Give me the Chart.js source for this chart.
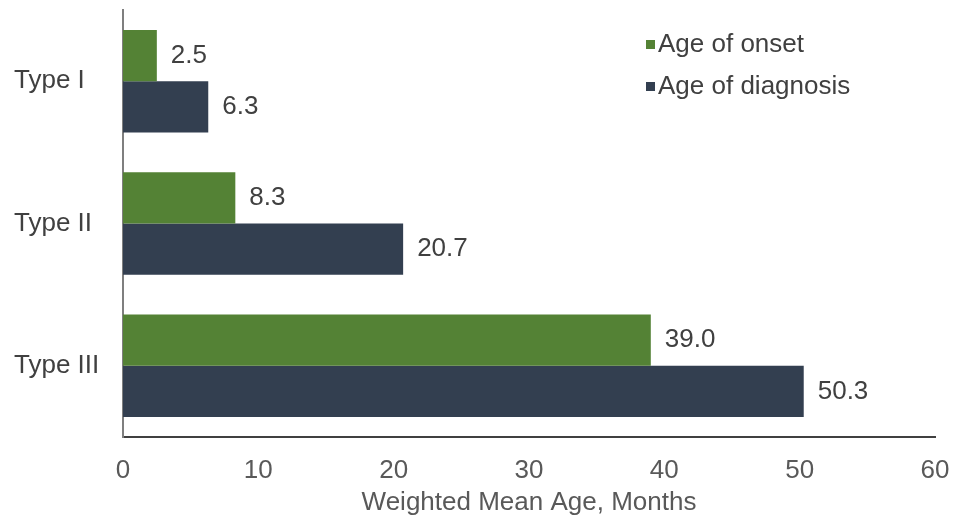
<!DOCTYPE html>
<html>
<head>
<meta charset="utf-8">
<script src="https://cdn.jsdelivr.net/npm/chart.js@4/dist/chart.umd.min.js"></script>
<style>
  html, body { margin: 0; padding: 0; background: #fff; }
  #wrap { width: 957px; height: 522px; position: relative; }
</style>
</head>
<body>
<div id="wrap"><canvas id="myChart" width="957" height="522"></canvas></div>
<script>
const categories = ['Type I', 'Type II', 'Type III'];
const onsetValues = [2.5, 8.3, 39.0];
const diagnosisValues = [6.3, 20.7, 50.3];
const seriesNames = ['Age of onset', 'Age of diagnosis'];
const xTicks = [0, 10, 20, 30, 40, 50, 60];
const xTitle = 'Weighted Mean Age, Months';

const FONT = '"Liberation Sans", Arial, sans-serif';
const SIZE = 26;
const TEXT = '#404040';

// value labels at the end of each bar
const barLabels = {
  id: 'barLabels',
  afterDatasetsDraw(chart) {
    const ctx = chart.ctx;
    ctx.save();
    ctx.font = SIZE + 'px ' + FONT;
    ctx.fillStyle = TEXT;
    ctx.textAlign = 'left';
    ctx.textBaseline = 'middle';
    chart.data.datasets.forEach((ds, i) => {
      chart.getDatasetMeta(i).data.forEach((bar, j) => {
        ctx.fillText(ds.data[j].toFixed(1), bar.x + 14, bar.y);
      });
    });
    ctx.restore();
  }
};

// legend in the top right corner of the plot
const cornerLegend = {
  id: 'cornerLegend',
  afterDraw(chart) {
    const ctx = chart.ctx;
    ctx.save();
    ctx.font = SIZE + 'px ' + FONT;
    ctx.textBaseline = 'middle';
    chart.data.datasets.forEach((ds, i) => {
      const y = 45 + i * 42;
      ctx.fillStyle = ds.backgroundColor;
      ctx.fillRect(646, y - 5, 9, 9);
      ctx.fillStyle = TEXT;
      ctx.fillText(ds.label, 658, y);
    });
    ctx.restore();
  }
};

const ctx = document.getElementById('myChart').getContext('2d');
const myChart = new Chart(ctx, {
  type: 'bar',
  data: {
    labels: categories,
    datasets: [
      { label: seriesNames[0], data: onsetValues, backgroundColor: '#548235' },
      { label: seriesNames[1], data: diagnosisValues, backgroundColor: '#333f50' }
    ]
  },
  options: {
    indexAxis: 'y',
    responsive: false,
    animation: false,
    layout: { padding: { top: 10, right: 22, left: 14, bottom: 0 } },
    plugins: { legend: { display: false }, tooltip: { enabled: false } },
    datasets: { bar: { categoryPercentage: 0.72, barPercentage: 1.0 } },
    scales: {
      x: {
        min: 0, max: 60,
        afterBuildTicks: s => { s.ticks = xTicks.map(v => ({ value: v })); },
        afterFit: s => { s.height = 85; s.paddingLeft = 0; s.paddingRight = 0; },
        grid: { display: false, drawTicks: false },
        border: { color: '#404040', width: 2 },
        ticks: { color: '#595959', font: { family: FONT, size: SIZE }, padding: 18 },
        title: { display: true, text: xTitle, color: '#595959', font: { family: FONT, size: SIZE }, padding: { top: 5 } }
      },
      y: {
        afterFit: s => { s.width = 109; s.paddingTop = 0; s.paddingBottom = 0; },
        grid: { display: false, drawTicks: false },
        border: { color: '#7f7f7f', width: 2 },
        ticks: { color: TEXT, font: { family: FONT, size: SIZE }, crossAlign: 'far', padding: 14 }
      }
    }
  },
  plugins: [barLabels, cornerLegend]
});
</script>
</body>
</html>
